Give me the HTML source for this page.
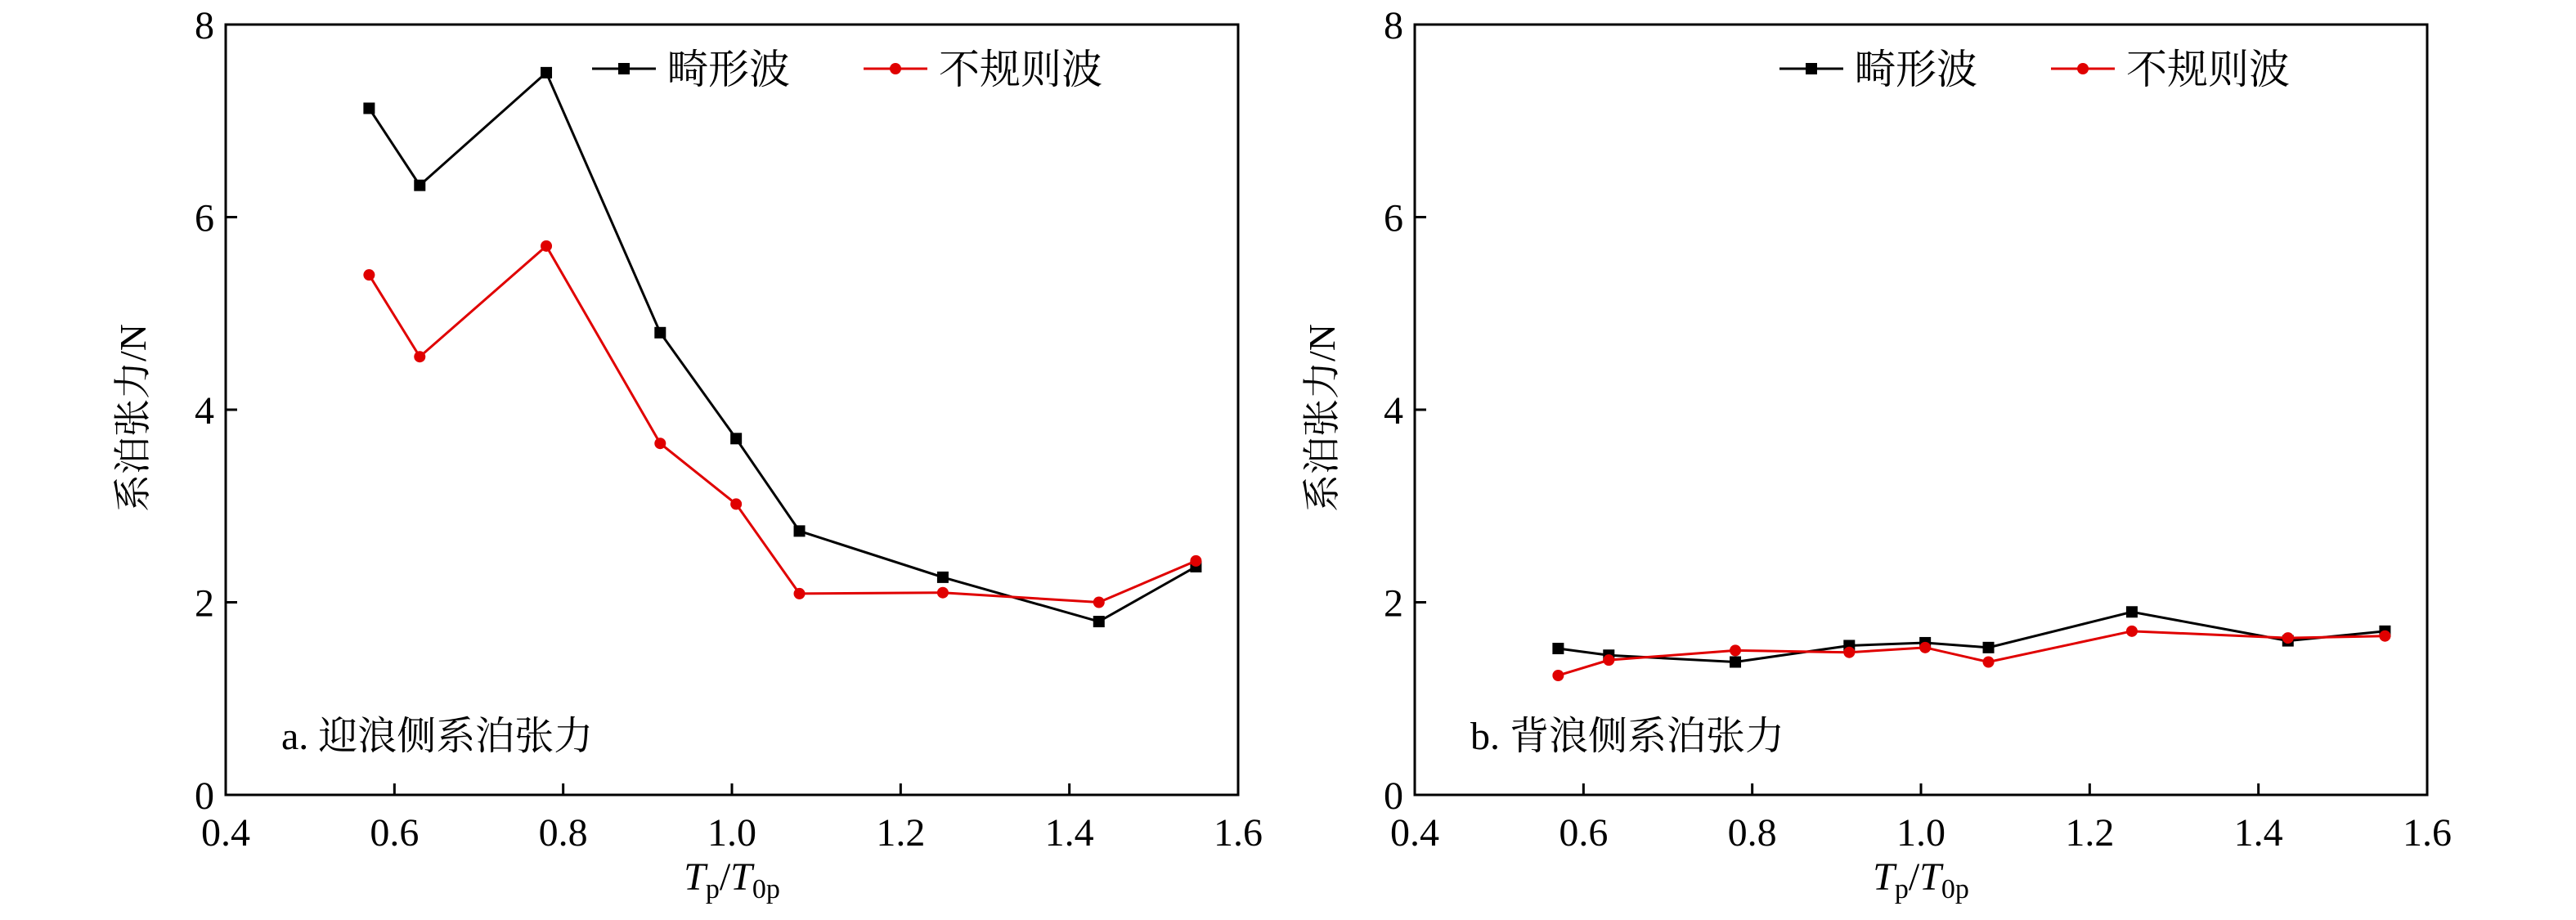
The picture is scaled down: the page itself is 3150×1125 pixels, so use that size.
<!DOCTYPE html>
<html><head><meta charset="utf-8"><style>
html,body{margin:0;padding:0;background:#fff}
svg{display:block}
text{font-family:"Liberation Serif","Noto Serif CJK SC","Noto Sans CJK SC",serif;fill:#000}
</style></head><body>
<svg id="chart" width="3150" height="1125" viewBox="0 0 3150 1125" xmlns="http://www.w3.org/2000/svg"></svg>
<script>
const xValues = [0.57, 0.63, 0.78, 0.915, 1.005, 1.08, 1.25, 1.435, 1.55];
const aFreak = [7.13, 6.33, 7.5, 4.8, 3.7, 2.74, 2.26, 1.8, 2.37];
const aIrreg = [5.4, 4.55, 5.7, 3.65, 3.02, 2.09, 2.1, 2.0, 2.43];
const bFreak = [1.52, 1.45, 1.38, 1.55, 1.58, 1.53, 1.9, 1.6, 1.7];
const bIrreg = [1.24, 1.4, 1.5, 1.48, 1.53, 1.38, 1.7, 1.63, 1.65];
const xTicks = [0.4, 0.6, 0.8, 1.0, 1.2, 1.4, 1.6];
const xTickLabels = ["0.4","0.6","0.8","1.0","1.2","1.4","1.6"];
const yTicks = [0, 2, 4, 6, 8];
const yTickLabels = ["0","2","4","6","8"];
const seriesNames = ["畸形波","不规则波"];
const panelTitles = ["a. 迎浪侧系泊张力","b. 背浪侧系泊张力"];

const NS="http://www.w3.org/2000/svg";
const svg=document.getElementById('chart');
function mk(tag,attrs,parent,txt){const e=document.createElementNS(NS,tag);for(const k in attrs)e.setAttribute(k,attrs[k]);if(txt!==undefined)e.textContent=txt;(parent||svg).appendChild(e);return e;}

function panel(idx,left,right,top,bottom,freak,irreg,legX){
  const g=mk('g',{});
  
  
  const xs=v=>left+(v-0.4)/(1.2)*(right-left);
  const ys=v=>bottom-v/8*(bottom-top);
  const frame=mk('rect',{x:left,y:top,width:right-left,height:bottom-top,fill:'none',stroke:'#000','stroke-width':3},g);
  
  
  xTicks.forEach((t,i)=>{
    const x=xs(t);
    mk('line',{x1:x,y1:bottom,x2:x,y2:bottom-14,stroke:'#000','stroke-width':3},g);
    const lb=mk('text',{x:x,y:bottom+62,'font-size':48,'text-anchor':'middle'},g,xTickLabels[i]);
    
    
  });
  yTicks.forEach((t,i)=>{
    const y=ys(t);
    mk('line',{x1:left,y1:y,x2:left+14,y2:y,stroke:'#000','stroke-width':3},g);
    const lb=mk('text',{x:left-14,y:y+17,'font-size':48,'text-anchor':'end'},g,yTickLabels[i]);
    
    
  });
  const yt=mk('text',{x:0,y:0,'font-size':46,'text-anchor':'middle',transform:`translate(${left-98},${(top+bottom)/2+10}) rotate(-90)`},g,'系泊张力/N');
  
  
  const xt=mk('text',{x:(left+right)/2,y:bottom+116,'font-size':48,'text-anchor':'middle'},g);
  
  
  mk('tspan',{'font-style':'italic'},xt,'T');
  mk('tspan',{'font-size':34,dy:10},xt,'p');
  mk('tspan',{dy:-10},xt,'/');
  mk('tspan',{'font-style':'italic'},xt,'T');
  mk('tspan',{'font-size':34,dy:10},xt,'0p');
  const pt=mk('text',{x:left+68,y:top+886,'font-size':48},g,panelTitles[idx]);
  
  
  const draw=(vals,color,isSquare,name)=>{
    const sg=mk('g',{},g);
    
    
    const pts=vals.map((v,i)=>xs(xValues[i])+','+ys(v)).join(' ');
    const pl=mk('polyline',{points:pts,fill:'none',stroke:color,'stroke-width':3},sg);
    
    
    vals.forEach((v,i)=>{
      const cx=xs(xValues[i]),cy=ys(v);
      const m=isSquare?mk('rect',{x:cx-7,y:cy-7,width:14,height:14,fill:color},sg):mk('circle',{cx:cx,cy:cy,r:7,fill:color},sg);
      
      
    });
  };
  draw(freak,'#000',true,'freak');
  draw(irreg,'#e00000',false,'irregular');
  const lg=mk('g',{},g);
  
  
  const ly=top+54;
  [[legX,'#000',true,seriesNames[0]],[legX+332,'#e00000',false,seriesNames[1]]].forEach(e=>{
    const eg=mk('g',{},lg);
    
    
    mk('line',{x1:e[0],y1:ly,x2:e[0]+78,y2:ly,stroke:e[1],'stroke-width':3},eg);
    if(e[2])mk('rect',{x:e[0]+32,y:ly-7,width:14,height:14,fill:e[1]},eg);
    else mk('circle',{cx:e[0]+39,cy:ly,r:7,fill:e[1]},eg);
    mk('text',{x:e[0]+92,y:ly+18,'font-size':50},eg,e[3]);
  });
}
panel(0,276,1514,30,972,aFreak,aIrreg,724);
panel(1,1730,2968,30,972,bFreak,bIrreg,2176);
</script>
</body></html>
